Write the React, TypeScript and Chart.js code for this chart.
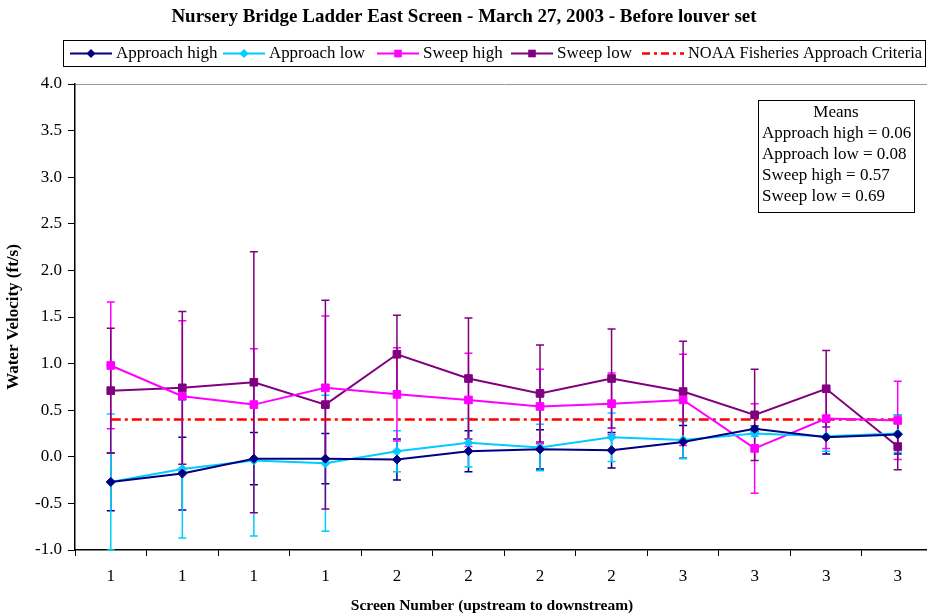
import React, { useEffect, useRef } from "react";
import { Chart, registerables } from "chart.js";
Chart.register(...registerables);

const titleText = "Nursery Bridge Ladder East Screen - March 27, 2003 - Before louver set";
const xTitle = "Screen Number (upstream to downstream)";
const yTitle = "Water Velocity (ft/s)";
const categories = ["1", "1", "1", "1", "2", "2", "2", "2", "3", "3", "3", "3"];
const seriesNames = ["Approach high", "Approach low", "Sweep high", "Sweep low", "NOAA Fisheries Approach Criteria"];
const approachHigh = [-0.27, -0.18, -0.02, -0.02, -0.03, 0.06, 0.08, 0.07, 0.16, 0.3, 0.21, 0.24];
const approachHighErr = [0.31, 0.39, 0.28, 0.27, 0.22, 0.22, 0.21, 0.19, 0.175, 0.03, 0.18, 0.21];
const approachLow = [-0.27, -0.13, -0.04, -0.07, 0.06, 0.15, 0.1, 0.21, 0.18, 0.25, 0.22, 0.25];
const approachLowErr = [0.73, 0.74, 0.81, 0.73, 0.22, 0.26, 0.25, 0.26, 0.2, 0.03, 0.16, 0.2];
const sweepHigh = [0.98, 0.65, 0.56, 0.74, 0.67, 0.61, 0.54, 0.57, 0.61, 0.09, 0.41, 0.39];
const sweepHighErr = [0.68, 0.81, 0.6, 0.77, 0.5, 0.5, 0.4, 0.33, 0.49, 0.48, 0.32, 0.42];
const sweepLow = [0.71, 0.74, 0.8, 0.56, 1.1, 0.84, 0.68, 0.84, 0.7, 0.45, 0.73, 0.11];
const sweepLowErr = [0.67, 0.82, 1.4, 1.12, 0.42, 0.65, 0.52, 0.53, 0.54, 0.49, 0.41, 0.25];
const criteria = [0.4, 0.4, 0.4, 0.4, 0.4, 0.4, 0.4, 0.4, 0.4, 0.4, 0.4, 0.4];
const meansLines = ["Approach high = 0.06", "Approach low = 0.08", "Sweep high = 0.57", "Sweep low = 0.69"];

const NAVY = "#000080";
const CYAN = "#00CCFF";
const MAGENTA = "#FF00FF";
const PURPLE = "#800080";
const RED = "#FF0000";
const SERIF = '"Liberation Serif", "Times New Roman", serif';

const errorSets = [approachHighErr, approachLowErr, sweepHighErr, sweepLowErr];
const colors = [NAVY, CYAN, MAGENTA, PURPLE, RED];
const shapes = ["diamond", "diamond", "square", "square", "none"];
const legendStarts = [70, 223, 377, 511, 642];
const legendMaxWidths = [104, 96, 84, 78, 234];

function drawMarker(ctx: CanvasRenderingContext2D, shape: string, x: number, y: number, color: string) {
  ctx.fillStyle = color;
  ctx.beginPath();
  if (shape === "diamond") {
    const r = 4.5;
    ctx.moveTo(x, y - r);
    ctx.lineTo(x + r, y);
    ctx.lineTo(x, y + r);
    ctx.lineTo(x - r, y);
    ctx.closePath();
    ctx.fill();
  } else if (shape === "square") {
    const s = 3.8;
    ctx.rect(x - s, y - s, 2 * s, 2 * s);
    ctx.fill();
  }
}

const errorBarPlugin = {
  id: "errorBars",
  beforeDatasetsDraw(chart: any) {
    const ctx = chart.ctx;
    const ys = chart.scales.y;
    ctx.save();
    errorSets.forEach((errs, i) => {
      const meta = chart.getDatasetMeta(i);
      const vals = chart.data.datasets[i].data as number[];
      ctx.strokeStyle = colors[i];
      ctx.lineWidth = 1.5;
      meta.data.forEach((pt: any, j: number) => {
        const v = vals[j];
        const e = errs[j];
        const x = pt.x;
        const top = ys.getPixelForValue(v + e);
        const bot = ys.getPixelForValue(v - e);
        ctx.beginPath();
        ctx.moveTo(x, top);
        ctx.lineTo(x, bot);
        ctx.moveTo(x - 4, top);
        ctx.lineTo(x + 4, top);
        ctx.moveTo(x - 4, bot);
        ctx.lineTo(x + 4, bot);
        ctx.stroke();
      });
    });
    ctx.restore();
  },
};

const decorPlugin = {
  id: "decor",
  afterDraw(chart: any) {
    const ctx: CanvasRenderingContext2D = chart.ctx;
    ctx.save();
    ctx.fillStyle = "#000";
    ctx.textBaseline = "middle";
    // title
    ctx.font = `bold 19px ${SERIF}`;
    ctx.textAlign = "center";
    ctx.fillText(titleText, 464, 17);
    // x axis title
    ctx.font = `bold 15.5px ${SERIF}`;
    ctx.fillText(xTitle, 492, 606);

    // legend box
    ctx.strokeStyle = "#000";
    ctx.lineWidth = 1;
    ctx.strokeRect(63.5, 40.5, 862, 26);
    ctx.font = `17px ${SERIF}`;
    ctx.textAlign = "left";
    const ly = 53.5;
    seriesNames.forEach((name, i) => {
      const x = legendStarts[i];
      ctx.save();
      ctx.strokeStyle = colors[i];
      ctx.lineWidth = i === 4 ? 2.5 : 2;
      if (i === 4) ctx.setLineDash([8, 4, 3, 4]);
      ctx.beginPath();
      ctx.moveTo(x, ly);
      ctx.lineTo(x + 42, ly);
      ctx.stroke();
      ctx.restore();
      drawMarker(ctx, shapes[i], x + 21, ly, colors[i]);
      ctx.fillStyle = "#000";
      ctx.fillText(name, x + 46, ly + 0.5, legendMaxWidths[i]);
    });

    // means box
    ctx.strokeRect(758.5, 100.5, 156, 112);
    ctx.font = `17px ${SERIF}`;
    ctx.textAlign = "center";
    ctx.fillText("Means", 836, 113);
    ctx.textAlign = "left";
    meansLines.forEach((t, i) => {
      ctx.fillText(t, 762, 134 + i * 21, 150);
    });
    ctx.restore();
  },
};

function makeDataset(label: string, data: number[], color: string, style: string, radius: number) {
  return {
    label,
    data,
    borderColor: color,
    backgroundColor: color,
    borderWidth: 2,
    pointStyle: style,
    pointRadius: radius,
    pointBorderWidth: 1,
    pointBackgroundColor: color,
    pointBorderColor: color,
    tension: 0,
  };
}

export default function App() {
  const ref = useRef<HTMLCanvasElement>(null);
  useEffect(() => {
    const chart = new Chart(ref.current as HTMLCanvasElement, {
      type: "line",
      data: {
        labels: categories,
        datasets: [
          makeDataset(seriesNames[0], approachHigh, NAVY, "rectRot", 4.5),
          makeDataset(seriesNames[1], approachLow, CYAN, "rectRot", 4.5),
          makeDataset(seriesNames[2], sweepHigh, MAGENTA, "rect", 5.4),
          makeDataset(seriesNames[3], sweepLow, PURPLE, "rect", 5.4),
          {
            label: seriesNames[4],
            data: criteria,
            borderColor: RED,
            borderWidth: 2.5,
            borderDash: [10, 4, 3, 4],
            pointRadius: 0,
            fill: false,
          } as any,
        ],
      },
      options: {
        responsive: false,
        devicePixelRatio: 1,
        animation: false,
        layout: { padding: { top: 84, right: 16.5, bottom: 0, left: 0 } },
        plugins: {
          legend: { display: false },
          title: { display: false },
          tooltip: { enabled: false },
        },
        scales: {
          x: {
            type: "category",
            offset: true,
            grid: {
              offset: true,
              drawOnChartArea: false,
              drawTicks: true,
              tickLength: 6,
              color: "#000",
            },
            border: { color: "#000", width: 1.5 },
            ticks: {
              color: "#000",
              font: { family: SERIF, size: 17 },
              padding: 10,
              maxRotation: 0,
              autoSkip: false,
            },
            afterFit(s: any) {
              s.height = 66;
            },
          },
          y: {
            min: -1,
            max: 4,
            ticks: {
              stepSize: 0.5,
              color: "#000",
              font: { family: SERIF, size: 17 },
              padding: 6,
              callback: (v: any) => Number(v).toFixed(1),
            },
            grid: {
              drawOnChartArea: true,
              color: (c: any) => (c.tick && c.tick.value === 4 ? "#999999" : "rgba(0,0,0,0)"),
              tickColor: "#000",
              tickLength: 7,
            },
            border: { color: "#000", width: 1.5 },
            title: {
              display: true,
              text: yTitle,
              color: "#000",
              font: { family: SERIF, size: 17, weight: "bold" },
              padding: { top: 3, bottom: 3 },
            },
            afterFit(s: any) {
              s.width = 75;
            },
          },
        },
      } as any,
      plugins: [errorBarPlugin, decorPlugin],
    });
    return () => chart.destroy();
  }, []);
  return (
    <div
      style={{
        position: "fixed",
        left: 0,
        top: 0,
        width: 927,
        height: 616,
        overflow: "hidden",
        background: "#fff",
      }}
    >
      <canvas ref={ref} width={950} height={616} style={{ display: "block", width: 950, height: 616 }} />
    </div>
  );
}
